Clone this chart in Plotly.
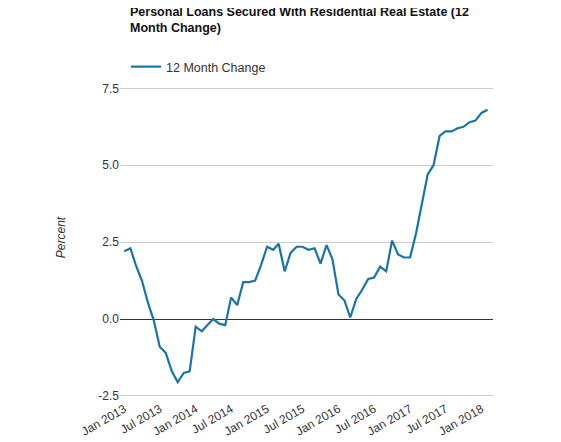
import plotly.graph_objects as go
import pandas as pd

dates = pd.date_range("2013-01-01", periods=62, freq="MS")
values = [2.2, 2.3, 1.75, 1.25, 0.55, -0.05, -0.9, -1.1, -1.7, -2.05, -1.75, -1.7,
          -0.25, -0.4, -0.2, 0.0, -0.15, -0.2, 0.7, 0.45, 1.2, 1.2, 1.25, 1.75,
          2.35, 2.25, 2.45, 1.55, 2.15, 2.35, 2.35, 2.25, 2.3, 1.8, 2.4, 1.95,
          0.8, 0.6, 0.05, 0.65, 0.95, 1.3, 1.35, 1.7, 1.55, 2.55, 2.1, 2.0,
          2.0, 2.8, 3.7, 4.7, 5.0, 5.95, 6.1, 6.1, 6.2, 6.25, 6.4, 6.45,
          6.7, 6.8]
tick_vals = ["2013-01-01", "2013-07-01", "2014-01-01", "2014-07-01", "2015-01-01", "2015-07-01",
             "2016-01-01", "2016-07-01", "2017-01-01", "2017-07-01", "2018-01-01"]
tick_text = ["Jan 2013", "Jul 2013", "Jan 2014", "Jul 2014", "Jan 2015", "Jul 2015",
             "Jan 2016", "Jul 2016", "Jan 2017", "Jul 2017", "Jan 2018"]

fig = go.Figure(go.Scatter(x=dates, y=values, mode="lines", name="12 Month Change",
                           line=dict(color="#1a75a5", width=2.2)))
fig.update_layout(
    width=561, height=442, plot_bgcolor="white", paper_bgcolor="white",
    font=dict(family="Arial, Liberation Sans", size=12, color="#333"),
    title=dict(text="<b>Personal Loans Secured With Residential Real Estate (12<br>Month Change)</b>",
               x=122/561, xanchor="left", xref="container", y=1 - 8/442, yref="container",
               yanchor="top", font=dict(size=12.5, color="#111")),
    showlegend=True,
    legend=dict(x=118/561, y=1 - 44/442, xref="container", yref="container", xanchor="left",
                yanchor="top", orientation="h", font=dict(size=12.5, color="#333")),
    margin=dict(l=112, r=76, t=68, b=51, autoexpand=False),
)
fig.update_xaxes(tickvals=tick_vals, ticktext=tick_text, tickangle=-30, showgrid=False,
                 range=["2012-12-10", "2018-03-01"], tickfont=dict(size=12, color="#333"),
                 ticks="", showline=False)
fig.update_yaxes(range=[-2.6, 7.9], tickvals=[-2.5, 0, 2.5, 5.0, 7.5], ticktext=["-2.5", "0.0", "2.5", "5.0", "7.5"],
                 gridcolor="#cccccc", zeroline=True, zerolinecolor="#333", zerolinewidth=1,
                 title=dict(text="<i>Percent</i>", font=dict(size=12, color="#333"), standoff=30),
                 tickfont=dict(size=12, color="#333"))
fig.write_html("out.html")
